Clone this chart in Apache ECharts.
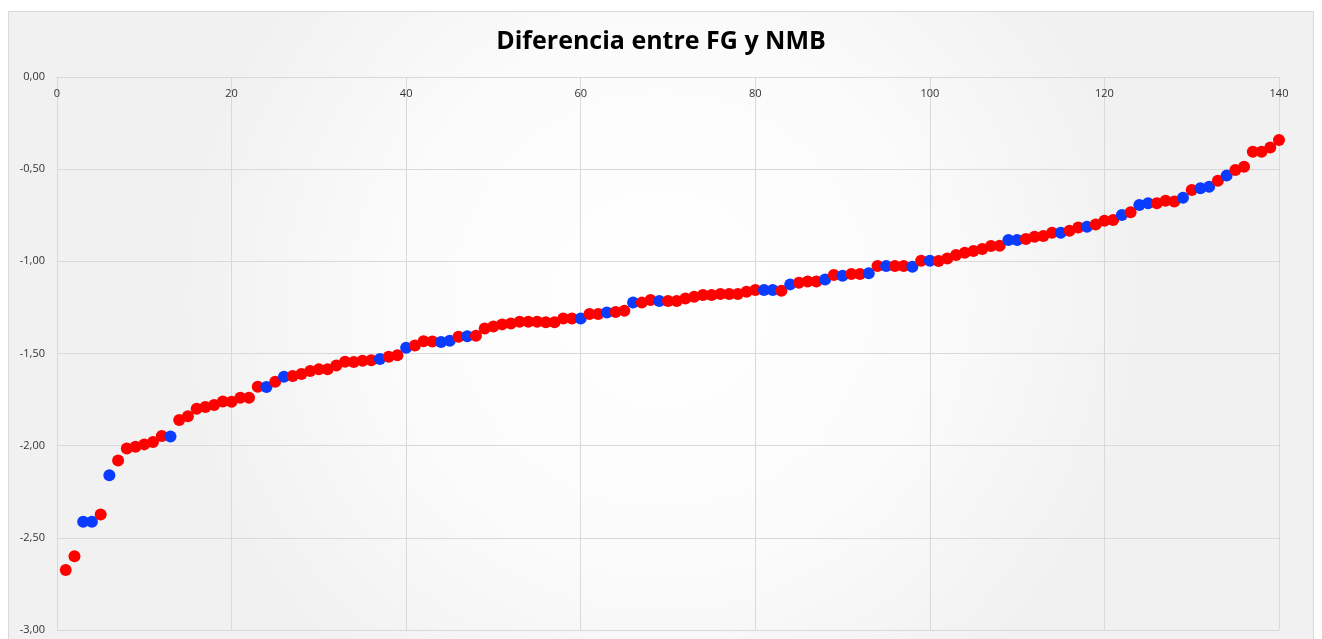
<!DOCTYPE html>
<html>
<head>
<meta charset="utf-8">
<title>Diferencia entre FG y NMB</title>
<script src="https://cdn.jsdelivr.net/npm/echarts@6/dist/echarts.min.js"></script>
<style>
  html, body { margin: 0; padding: 0; background: #ffffff; }
  #chart { width: 1322px; height: 639px; }
</style>
</head>
<body>
<div id="chart"></div>
<script>
// Difference FG - NMB for each ordered case (1..140)
const diferencia = [
  -2.675, -2.600, -2.413, -2.413, -2.373, -2.160, -2.080, -2.015, -2.006, -1.993,
  -1.980, -1.948, -1.950, -1.861, -1.841, -1.800, -1.790, -1.780, -1.760, -1.762,
  -1.740, -1.740, -1.680, -1.682, -1.653, -1.626, -1.622, -1.611, -1.595, -1.586,
  -1.586, -1.565, -1.545, -1.546, -1.539, -1.537, -1.530, -1.517, -1.510, -1.469,
  -1.456, -1.433, -1.435, -1.437, -1.431, -1.409, -1.407, -1.404, -1.364, -1.353,
  -1.342, -1.337, -1.328, -1.328, -1.328, -1.331, -1.331, -1.310, -1.310, -1.310,
  -1.286, -1.286, -1.277, -1.275, -1.268, -1.223, -1.224, -1.210, -1.215, -1.215,
  -1.215, -1.201, -1.192, -1.183, -1.183, -1.177, -1.177, -1.177, -1.165, -1.156,
  -1.156, -1.156, -1.160, -1.125, -1.116, -1.110, -1.110, -1.098, -1.074, -1.078,
  -1.069, -1.069, -1.065, -1.025, -1.025, -1.025, -1.025, -1.029, -0.997, -0.997,
  -0.998, -0.984, -0.966, -0.953, -0.944, -0.933, -0.917, -0.915, -0.884, -0.884,
  -0.879, -0.866, -0.863, -0.845, -0.845, -0.834, -0.816, -0.812, -0.800, -0.780,
  -0.776, -0.749, -0.734, -0.695, -0.685, -0.685, -0.671, -0.676, -0.655, -0.613,
  -0.604, -0.595, -0.563, -0.535, -0.505, -0.487, -0.405, -0.405, -0.382, -0.342
];

// Case numbers drawn in blue; every other case is drawn in red
const casosAzules = [
  3, 4, 6, 13, 24, 26, 37, 40, 44, 45, 47, 60, 63, 66, 69, 81, 82, 84, 88, 90,
  93, 95, 98, 100, 109, 110, 115, 118, 122, 124, 125, 129, 131, 132, 134
];

const colorRojo = '#ff0000';
const colorAzul = '#0a3cff';

// Single series so later cases overlap earlier ones, one colour per point
const puntos = diferencia.map((v, i) => {
  const caso = i + 1;
  return {
    value: [caso, v],
    itemStyle: { color: casosAzules.includes(caso) ? colorAzul : colorRojo }
  };
});

const fmtEje = v => v.toFixed(2).replace('.', ',');

const chart = echarts.init(document.getElementById('chart'), null, { renderer: 'canvas' });

chart.setOption({
  animation: false,
  backgroundColor: '#ffffff',
  graphic: [{
    type: 'rect',
    z: -10,
    silent: true,
    shape: { x: 8.5, y: 11.5, width: 1305, height: 640 },
    style: {
      fill: {
        type: 'radial', x: 0.5, y: 0.45, r: 0.75,
        colorStops: [
          { offset: 0, color: '#ffffff' },
          { offset: 0.55, color: '#fbfbfb' },
          { offset: 1, color: '#f1f1f1' }
        ]
      },
      stroke: '#d9d9d9',
      lineWidth: 1
    }
  }],
  title: {
    text: 'Diferencia entre FG y NMB',
    left: 'center',
    top: 24,
    textStyle: {
      fontFamily: 'Open Sans',
      fontWeight: 'bold',
      fontSize: 25,
      color: '#000000'
    }
  },
  grid: { left: 57, right: 43, top: 77, bottom: 9, containLabel: false },
  xAxis: {
    type: 'value',
    position: 'top',
    min: 0,
    max: 140,
    interval: 20,
    axisLine: { show: true, onZero: false, lineStyle: { color: '#d9d9d9', width: 1 } },
    axisTick: { show: false },
    axisLabel: {
      inside: true,
      margin: 11,
      color: '#333333',
      fontFamily: 'Open Sans',
      fontSize: 11
    },
    splitLine: { show: true, lineStyle: { color: '#d9d9d9', width: 1 } }
  },
  yAxis: {
    type: 'value',
    min: -3,
    max: 0,
    interval: 0.5,
    axisLine: { show: true, lineStyle: { color: '#d9d9d9', width: 1 } },
    axisTick: { show: false },
    axisLabel: {
      margin: 12,
      color: '#333333',
      fontFamily: 'Open Sans',
      fontSize: 11,
      formatter: fmtEje
    },
    splitLine: { show: true, lineStyle: { color: '#d9d9d9', width: 1 } }
  },
  series: [{
    type: 'scatter',
    symbol: 'circle',
    symbolSize: 12,
    data: puntos,
    itemStyle: { opacity: 1 }
  }]
});
</script>
</body>
</html>
